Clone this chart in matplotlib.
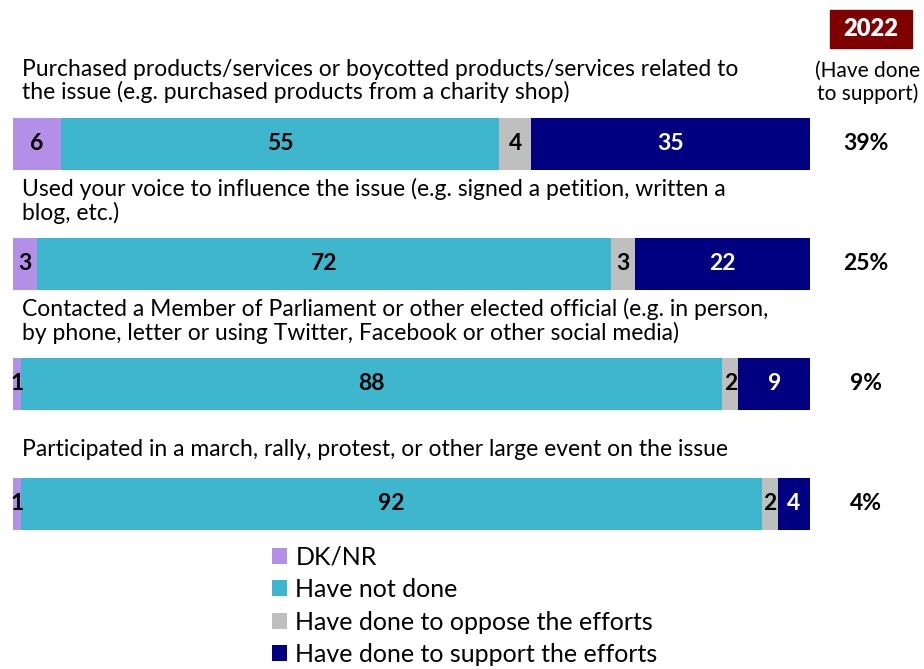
import matplotlib.pyplot as plt
from matplotlib.patches import Rectangle
import numpy as np

plt.rcParams['font.family'] = ['Lato', 'DejaVu Sans']

# data
questions = [
    'Purchased products/services or boycotted products/services related to\nthe issue (e.g. purchased products from a charity shop)',
    'Used your voice to influence the issue (e.g. signed a petition, written a\nblog, etc.)',
    'Contacted a Member of Parliament or other elected official (e.g. in person,\nby phone, letter or using Twitter, Facebook or other social media)',
    'Participated in a march, rally, protest, or other large event on the issue',
]
series_names = ['DK/NR', 'Have not done', 'Have done to oppose the efforts',
                'Have done to support the efforts']
dk_nr = [6, 3, 1, 1]
not_done = [55, 72, 88, 92]
oppose = [4, 3, 2, 2]
support = [35, 22, 9, 4]
support_2022 = ['39%', '25%', '9%', '4%']

colors = ['#B48FE8', '#3EB6CD', '#BFBFBF', '#000080']
txt_colors = ['black', 'black', 'black', 'white']

W, H = 924, 669
fig = plt.figure(figsize=(W / 100, H / 100), dpi=100)
# bars span x 13..810 px, rows centred every 120 px starting at 144
ax = fig.add_axes([13 / W, 1 - 564 / H, 797 / W, 480 / H])
ax.set_xlim(0, 100)
ax.set_ylim(3.5, -0.5)
ax.axis('off')

all_vals = np.array([dk_nr, not_done, oppose, support], dtype=float)
# 100% stacked: each row scaled to fill the full width
shares = all_vals / all_vals.sum(axis=0) * 100

y = np.arange(len(questions))
left = np.zeros(len(questions))
handles = []
for vals, wid, col, tc, name in zip([dk_nr, not_done, oppose, support], shares,
                                     colors, txt_colors, series_names):
    b = ax.barh(y, wid, left=left, height=0.433, color=col, label=name)
    handles.append(b)
    for yi, l, w, v in zip(y, left, wid, vals):
        ax.text(l + w / 2, yi, str(v), ha='center', va='center',
                color=tc, fontsize=16.5, fontweight='bold')
    left = left + wid

for yi, q in zip(y, questions):
    off = -0.525 if '\n' in q else -0.45
    ax.text(1.13, yi + off, q, ha='left', va='center', fontsize=16.5,
            linespacing=1.1)

# right column: 2022 support
xr = (866 - 13) / 797 * 100
for yi, s in zip(y, support_2022):
    ax.text(xr, yi, s, ha='center', va='center',
            fontsize=16.5, fontweight='bold', clip_on=False)

fig.patches.append(Rectangle((830 / W, 1 - 48 / H), 82 / W, 38 / H,
                             transform=fig.transFigure, color='#7F0000'))
fig.text(871 / W, 1 - 29 / H, '2022', ha='center', va='center', color='white',
         fontsize=17, fontweight='heavy')
fig.text(868 / W, 1 - 82 / H, '(Have done\nto support)', ha='center', va='center',
         fontsize=15, linespacing=1.15)

fig.legend(handles=handles, loc='upper left',
           bbox_to_anchor=(259 / W, 1 - 533 / H), frameon=False,
           fontsize=18, handlelength=0.6, handleheight=0.6,
           handletextpad=0.35, labelspacing=0.38, borderpad=0)

fig.savefig('out.png', dpi=100)
